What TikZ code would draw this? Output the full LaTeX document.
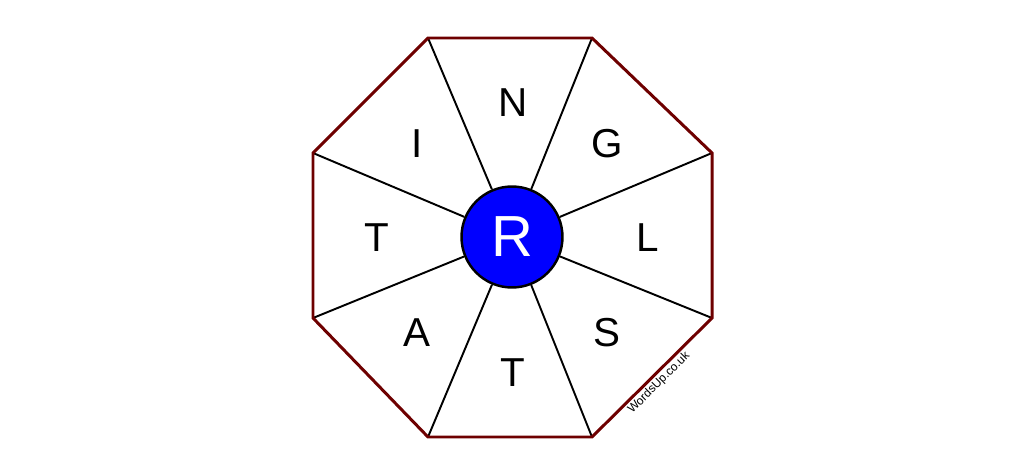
\documentclass[tikz,border=0pt]{standalone}
\usepackage{fontspec}
\setmainfont{Liberation Sans}
\definecolor{rimred}{RGB}{110,0,0}
\definecolor{hubblue}{RGB}{0,0,255}
\tikzset{
  rim/.style={draw=rimred,line width=1.7pt,line join=miter},
  spoke/.style={draw=black,line width=1.1pt},
  letter/.style={font=\fontsize{23}{23}\selectfont},
  hubnode/.style={shape=circle,draw=black,line width=1.4pt,fill=hubblue,
    minimum size=2.02cm,inner sep=0pt,text=white,font=\fontsize{33}{33}\selectfont}
}
\begin{document}
\begin{tikzpicture}[x=0.02cm,y=-0.02cm]
  \useasboundingbox (0,0) rectangle (1024,476);
  % octagon corners
  \coordinate (v1) at (428,38);
  \coordinate (v2) at (592,38);
  \coordinate (v3) at (712,153);
  \coordinate (v4) at (712,318);
  \coordinate (v5) at (592,437);
  \coordinate (v6) at (428,437);
  \coordinate (v7) at (313,318);
  \coordinate (v8) at (313,153);
  \node (hub) at (512,237) [hubnode] {R};
  \foreach \v in {1,...,8}
    \draw[spoke] (v\v) -- (hub);
  \draw[rim] (v1) -- (v2) -- (v3) -- (v4) -- (v5) -- (v6) -- (v7) -- (v8) -- cycle;
  % letters
  \node (n) at (513,103) [letter] {N};
  \node (g) at (607,144) [letter] {G};
  \node (l) at (648,238) [letter] {L};
  \node (s) at (607,333) [letter] {S};
  \node (t1) at (513,373) [letter] {T};
  \node (a) at (417,333) [letter] {A};
  \node (t2) at (377,238) [letter] {T};
  \node (i) at (417,144) [letter] {I};
  \node (mark) at (659,383) [rotate=45,font=\fontsize{6.8}{6.8}\selectfont] {WordsUp.co.uk};
\end{tikzpicture}
\end{document}
